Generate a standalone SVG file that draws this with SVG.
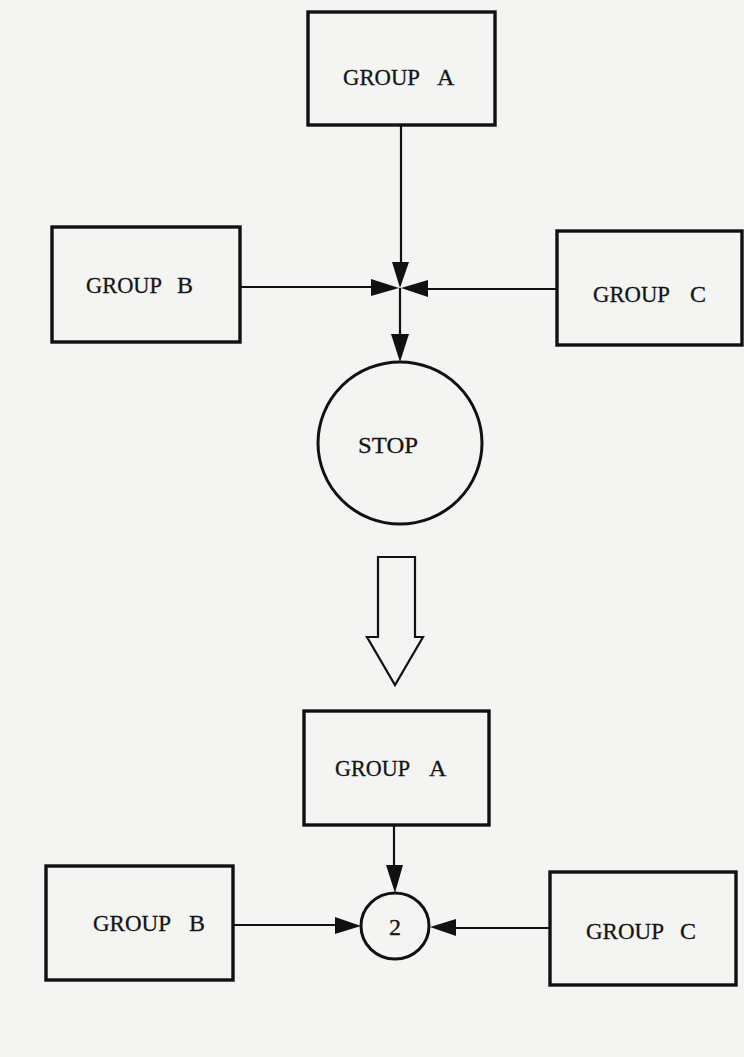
<svg xmlns="http://www.w3.org/2000/svg" width="744" height="1057" viewBox="0 0 744 1057">
<style>
.box{fill:none;stroke:#111;stroke-width:3.4}
.circ{fill:none;stroke:#111;stroke-width:3}
.ln{fill:none;stroke:#111;stroke-width:2.2}
.ah{fill:#111;stroke:none}
.lbl{font-family:"Liberation Serif","Times New Roman",serif;font-size:24px;fill:#151515;stroke:#151515;stroke-width:0.3}
</style>
<rect width="744" height="1057" fill="#f4f4f2"/>
<g id="connectors">
<line class="ln" x1="401" y1="125" x2="401" y2="270"/>
<polygon class="ah" points="392,262 409,262 400,288"/>
<line class="ln" x1="240" y1="287" x2="380" y2="287"/>
<polygon class="ah" points="371,279 371,296 399,288"/>
<line class="ln" x1="557" y1="289" x2="420" y2="289"/>
<polygon class="ah" points="428,280 428,297 401,288"/>
<line class="ln" x1="400" y1="288" x2="400" y2="340"/>
<polygon class="ah" points="391,334 409,334 400,362"/>
<line class="ln" x1="394" y1="825" x2="394" y2="870"/>
<polygon class="ah" points="386,865 403,865 395,893"/>
<line class="ln" x1="233" y1="925" x2="340" y2="925"/>
<polygon class="ah" points="335,917 335,934 361,926"/>
<line class="ln" x1="550" y1="928" x2="450" y2="928"/>
<polygon class="ah" points="456,919 456,936 430,927"/>
</g>
<g id="groupA1"><rect class="box" x="308" y="12" width="187" height="113"/><text class="lbl" x="343" y="85" textLength="77" lengthAdjust="spacingAndGlyphs">GROUP</text><text class="lbl" x="437" y="85">A</text></g>
<g id="groupB1"><rect class="box" x="52" y="227" width="188" height="115"/><text class="lbl" x="86" y="293" textLength="76" lengthAdjust="spacingAndGlyphs">GROUP</text><text class="lbl" x="177" y="293">B</text></g>
<g id="groupC1"><rect class="box" x="557" y="231" width="185" height="114"/><text class="lbl" x="593" y="302" textLength="77" lengthAdjust="spacingAndGlyphs">GROUP</text><text class="lbl" x="690" y="302">C</text></g>
<g id="stop"><ellipse class="circ" cx="400" cy="443" rx="82" ry="81"/><text class="lbl" x="358" y="453" textLength="60" lengthAdjust="spacingAndGlyphs">STOP</text></g>
<g id="transition"><path class="ln" d="M378,557 H415 V637 H423 L395,685 L367,637 H378 Z" stroke-width="2.6"/></g>
<g id="groupA2"><rect class="box" x="304" y="711" width="185" height="114"/><text class="lbl" x="335" y="776" textLength="75" lengthAdjust="spacingAndGlyphs">GROUP</text><text class="lbl" x="429" y="776">A</text></g>
<g id="groupB2"><rect class="box" x="46" y="866" width="187" height="114"/><text class="lbl" x="93" y="931" textLength="78" lengthAdjust="spacingAndGlyphs">GROUP</text><text class="lbl" x="189" y="931">B</text></g>
<g id="groupC2"><rect class="box" x="550" y="872" width="186" height="113"/><text class="lbl" x="586" y="939" textLength="78" lengthAdjust="spacingAndGlyphs">GROUP</text><text class="lbl" x="680" y="939">C</text></g>
<g id="node2"><ellipse class="circ" cx="395" cy="926" rx="34" ry="33"/><text class="lbl" x="395" y="935" text-anchor="middle">2</text></g>
</svg>
